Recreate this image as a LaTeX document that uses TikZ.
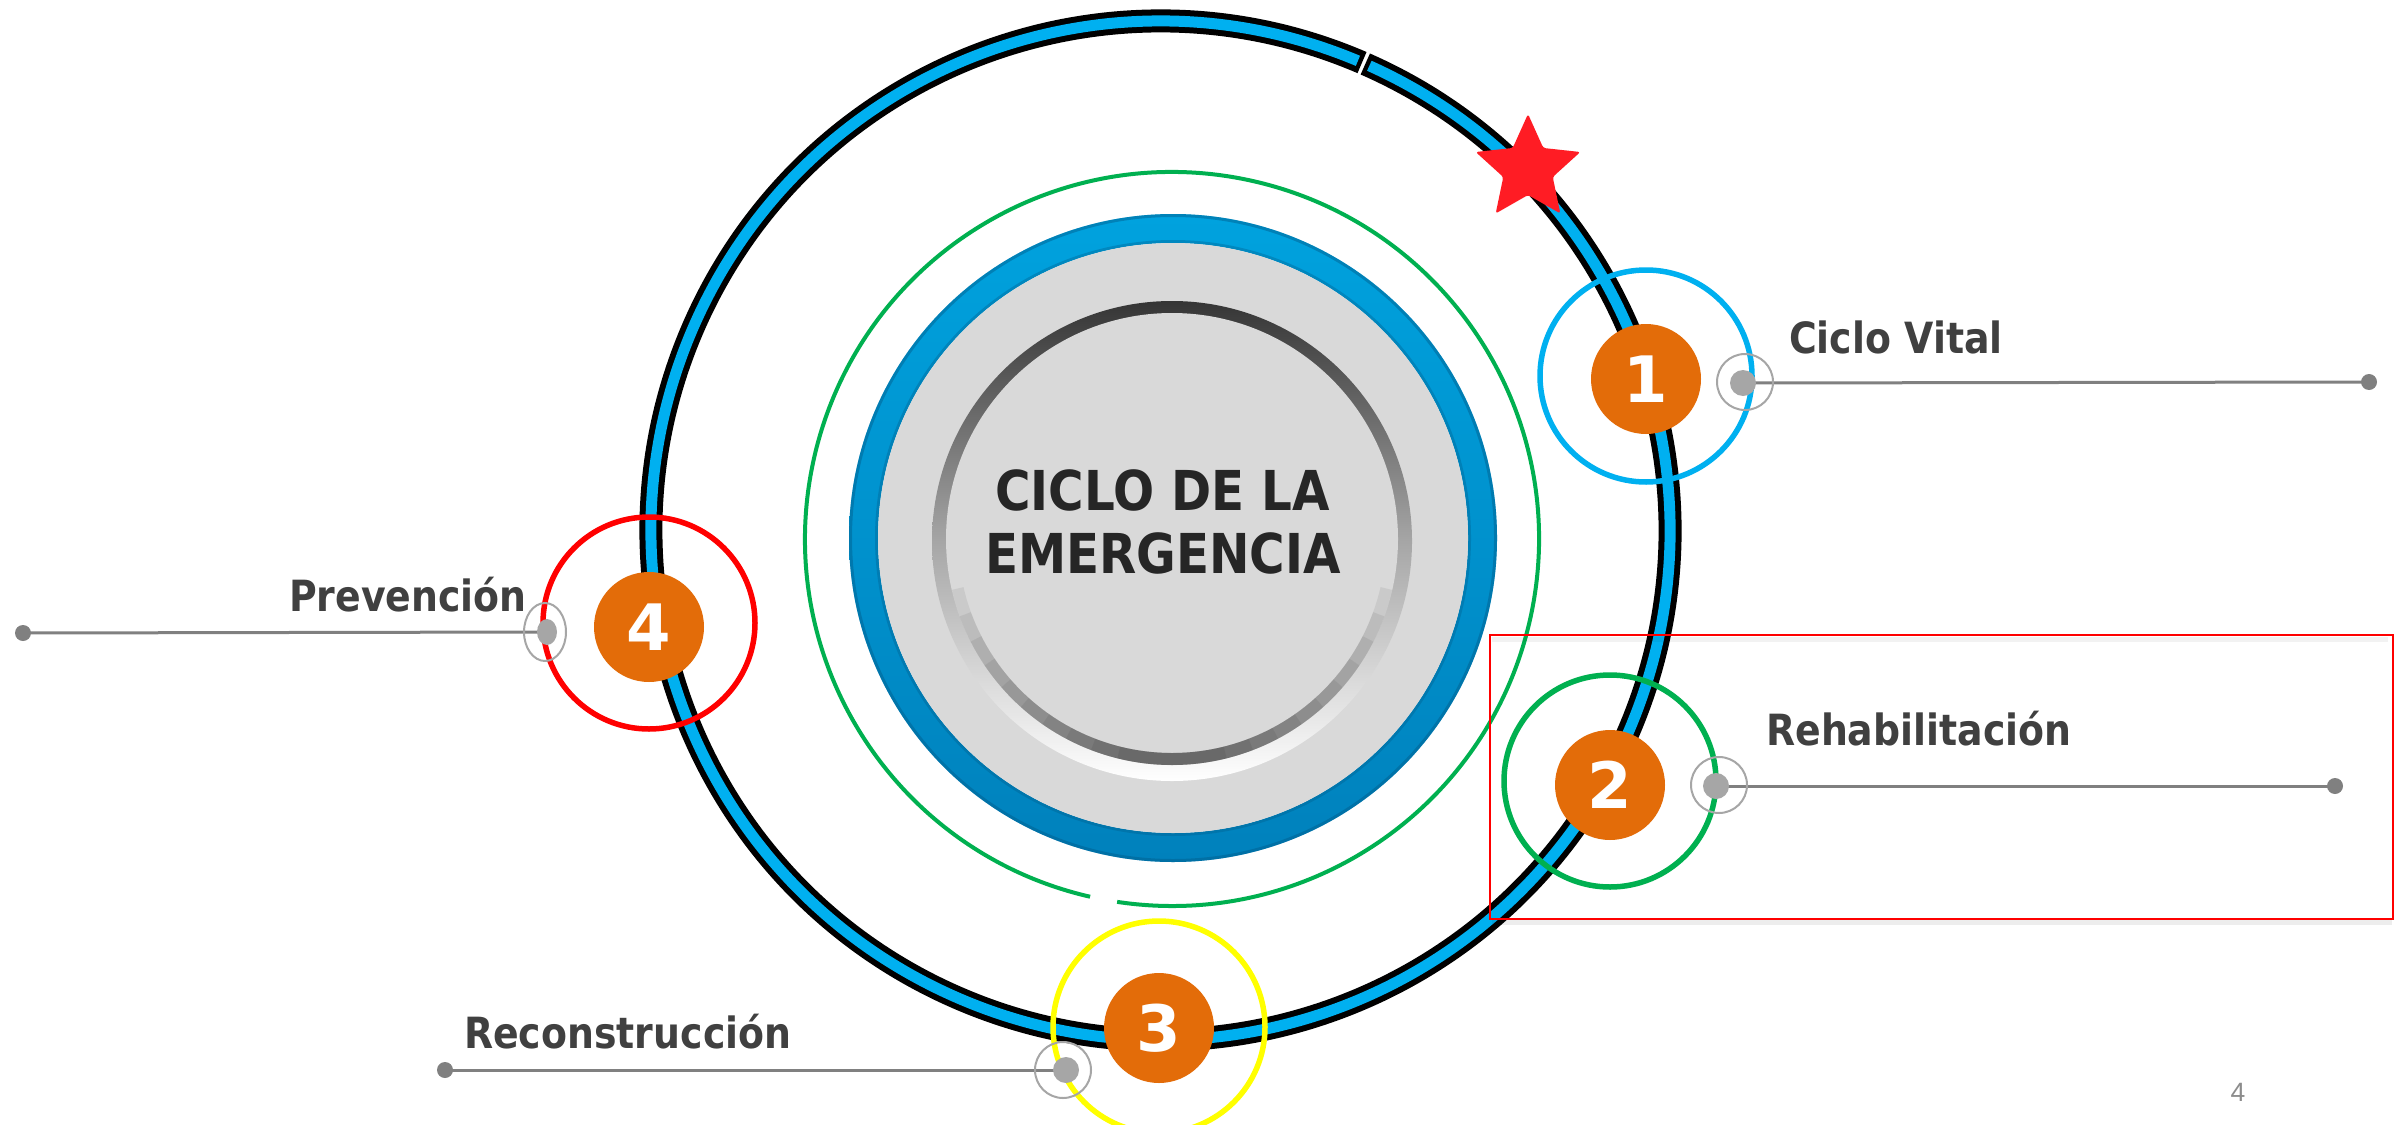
\documentclass[tikz,border=0pt]{standalone}
\usepackage{fontspec}
\usetikzlibrary{shapes.geometric}
\newfontfamily\labelfont{DejaVu Sans}[FakeStretch=0.88]
\newfontfamily\numfont{DejaVu Sans}
\newfontfamily\pagefont{Liberation Sans}
\definecolor{ringblue}{HTML}{00B0F0}
\definecolor{discblue}{HTML}{00A2DE}
\definecolor{discbluedark}{HTML}{0081BC}
\definecolor{discedge}{HTML}{005C8A}
\definecolor{orangec}{HTML}{E36C09}
\definecolor{greenc}{HTML}{00B050}
\definecolor{yellowc}{HTML}{FFFF00}
\definecolor{redc}{HTML}{FF0000}
\definecolor{stared}{HTML}{FF1C24}
\definecolor{greyd}{HTML}{D9D9D9}
\definecolor{rimdark}{HTML}{353535}
\definecolor{labelc}{HTML}{404040}
\definecolor{titlec}{HTML}{262626}
\definecolor{dotc}{HTML}{A6A6A6}
\definecolor{linec}{HTML}{808080}
\definecolor{pagec}{HTML}{8C8C8C}
\begin{document}
\begin{tikzpicture}[x=1pt,y=-1pt,
  numdisc/.style={circle, fill=orangec, minimum size=110, inner sep=0, text=white,
    font=\numfont\bfseries\fontsize{64}{64}\selectfont},
  orbit/.style={circle, draw=#1, line width=5.5, minimum size=212, inner sep=0},
  halo/.style={circle, draw=dotc, line width=2, minimum size=56, inner sep=0},
  pin/.style={circle, fill=dotc, minimum size=26, inner sep=0},
  tipdot/.style={circle, fill=linec, minimum size=16, inner sep=0},
  leader/.style={draw=linec, line width=3},
  lbl/.style={anchor=base west, inner sep=0, text=labelc,
    font=\labelfont\bfseries\fontsize{43}{50}\selectfont},
  ttl/.style={anchor=base, inner sep=0, text=titlec,
    font=\labelfont\bfseries\fontsize{55}{60}\selectfont},
]
\useasboundingbox (0,0) rectangle (2395,1124);
\fill[white] (0,0) rectangle (2395,1124);

% thin green orbit with gap
\coordinate (G) at (1172,539);
\draw[greenc, line width=4] (G) ++(102.9:367) arc[start angle=102.9, end angle=458.6, radius=367];

% blue disc
\coordinate (D) at (1173,538);
\shade[top color=discblue, bottom color=discbluedark, even odd rule] (D) circle (324) (D) circle (295);
\draw[discedge, opacity=0.45, line width=3] (D) circle (322.5);
\draw[discedge, opacity=0.35, line width=3] (D) circle (296.5);
\fill[greyd] (D) circle (295);

% inner bevelled disc
\coordinate (R) at (1172,541);
\coordinate (C) at (1172,539);
\shade[top color=rimdark, bottom color=white, middle color=black!35] (R) circle (240);
\fill[greyd] (C) circle (226);
\foreach \k in {0,...,9}{
  \pgfmathsetmacro{\sa}{90-(14+7*\k)}
  \pgfmathsetmacro{\ea}{90+(14+7*\k)}
  \draw[black, opacity=0.065, line width=12] (C) ++(\sa:220) arc[start angle=\sa, end angle=\ea, radius=220];
}

\node[ttl] (t1) at (1162.5,510) {CICLO DE LA};
\node[ttl] (t2) at (1163,573) {EMERGENCIA};

% big orbit ring with a gap
\coordinate (O) at (1160.5,530.5);
\draw[black, line width=23] (O) ++(-66.3:509.5) arc[start angle=-66.3, end angle=293.3, radius=509.5];
\draw[ringblue, line width=11] (O) ++(-65.8:509.5) arc[start angle=-65.8, end angle=292.8, radius=509.5];

% star
\begin{scope}[shift={(1528,169)}]
\fill[stared, rounded corners=2.5] (-90:55) -- (-54:26) -- (-18:55) -- (18:26) -- (54:55)
  -- (90:26) -- (126:55) -- (162:26) -- (198:55) -- (234:26) -- cycle;
\end{scope}

% red frame
\draw[black, opacity=0.07, line width=6] (1492,922) -- (2392,922);
\draw[black, opacity=0.05, line width=5] (1492,639) -- (2388,639);
\node[draw=redc, line width=2, minimum width=903, minimum height=284, inner sep=0, anchor=north west] (box) at (1489,634) {};

% stage circles
\node[orbit=ringblue] (o1) at (1646,376) {};
\node[numdisc] (n1) at (1646,379) {1};
\node[orbit=greenc] (o2) at (1610,781) {};
\node[numdisc] (n2) at (1610,785) {2};
\node[orbit=yellowc] (o3) at (1159,1027) {};
\node[numdisc] (n3) at (1159,1028) {3};
\node[orbit=redc] (o4) at (649,623) {};
\node[numdisc] (n4) at (649,627) {4};

% connectors
\coordinate (a1) at (1743,383); \coordinate (b1) at (2369,382);
\coordinate (a2) at (1716,786); \coordinate (b2) at (2335,786);
\coordinate (a3) at (1066,1070); \coordinate (b3) at (445,1070);
\coordinate (a4) at (547,632); \coordinate (b4) at (23,633);
\draw[leader] (a1) -- (b1);
\draw[leader] (a2) -- (b2);
\draw[leader] (a3) -- (b3);
\draw[leader] (a4) -- (b4);

\node[halo] (h1) at (1745,382) {};
\node[halo] (h2) at (1719,785) {};
\node[halo] (h3) at (1063,1070) {};
\node[ellipse, draw=dotc, line width=2, minimum width=42, minimum height=58, inner sep=0] (h4) at (545,632) {};
\node[pin] (p1) at (a1) {};
\node[pin] (p2) at (a2) {};
\node[pin] (p3) at (a3) {};
\node[ellipse, fill=dotc, minimum width=20, minimum height=26, inner sep=0] (p4) at (a4) {};
\node[tipdot] (e1) at (b1) {};
\node[tipdot] (e2) at (b2) {};
\node[tipdot] (e3) at (b3) {};
\node[tipdot] (e4) at (b4) {};

% labels
\node[lbl] (l1) at (1789,353) {Ciclo Vital};
\node[lbl] (l2) at (1766,745) {Rehabilitación};
\node[lbl, anchor=base east] (l4) at (527,611) {Prevención};
\node[lbl] (l3) at (464,1048) {Reconstrucción};

\node[anchor=base, inner sep=0, text=pagec, font=\pagefont\fontsize{26.5}{30}\selectfont] (pg) at (2238,1101) {4};
\end{tikzpicture}
\end{document}
